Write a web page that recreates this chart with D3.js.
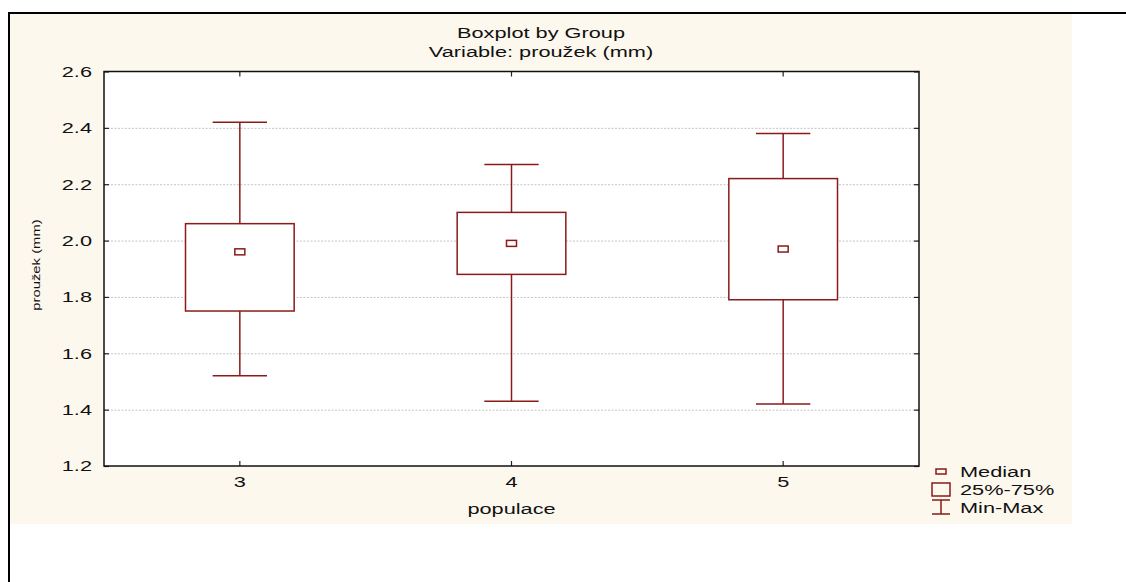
<!DOCTYPE html>
<html>
<head>
<meta charset="utf-8">
<script src="https://cdn.jsdelivr.net/npm/d3@7"></script>
<style>
  body { margin: 0; background: #fff; }
  svg { display: block; font-family: "Liberation Sans", Arial, sans-serif; }
  .axis path { display: none; }
  .axis line { stroke: #222; stroke-width: 1.2; }
  .axis text { font-size: 15px; fill: #111; }
  .grid line { stroke: #c4c4c4; stroke-dasharray: 2,1.5; }
  .grid path { display: none; }
</style>
</head>
<body>
<div id="viz"></div>
<script>
// groups and box values
var groups = ["3", "4", "5"]
var mins = [1.52, 1.43, 1.42]
var q1s = [1.75, 1.88, 1.79]
var medians = [1.96, 1.99, 1.97]
var q3s = [2.06, 2.10, 2.22]
var maxs = [2.42, 2.27, 2.38]
var yTicks = [1.2, 1.4, 1.6, 1.8, 2.0, 2.2, 2.4, 2.6]
var legendLabels = ["Median", "25%-75%", "Min-Max"]

var data = groups.map((g, i) => ({
  group: g, min: mins[i], q1: q1s[i], median: medians[i], q3: q3s[i], max: maxs[i]
}))

let red = '#8b1a1a'
let W = 1126, H = 582
let stretch = 1.45 // the original font is drawn wide

let svg = d3.select('#viz').append('svg')
  .attr('width', W)
  .attr('height', H)

// wide text helper
function wideText(x, y, str, size, anchor, rot, sx) {
  return svg.append('text')
    .attr('transform', `translate(${x},${y})` + (rot ? ` rotate(${rot})` : '') + ` scale(${sx || stretch},1)`)
    .attr('text-anchor', anchor || 'start')
    .style('font-size', size + 'px')
    .attr('fill', '#111')
    .text(str)
}

// beige panel
svg.append('rect')
  .attr('x', 10).attr('y', 14)
  .attr('width', 1062).attr('height', 510)
  .attr('fill', '#fdf8ee')

// outer frame (top and left edges only)
svg.append('path')
  .attr('d', `M9,${H} L9,13 L${W},13`)
  .attr('fill', 'none')
  .attr('stroke', '#000')
  .attr('stroke-width', 2)

let pLeft = 104, pRight = 919, pTop = 71.5, pBottom = 466

let xScale = d3.scaleBand()
  .domain(groups)
  .range([pLeft, pRight])
  .padding(0)

let yScale = d3.scaleLinear()
  .domain([1.2, 2.6])
  .range([pBottom, pTop])

svg.append('rect')
  .attr('x', pLeft).attr('y', pTop)
  .attr('width', pRight - pLeft).attr('height', pBottom - pTop)
  .attr('fill', '#fff')

// horizontal grid
svg.append('g')
  .attr('class', 'grid')
  .attr('transform', `translate(${pLeft},0)`)
  .call(d3.axisLeft(yScale)
    .tickValues(yTicks.slice(1, -1))
    .tickSize(-(pRight - pLeft))
    .tickFormat(''))

// axes with inner ticks
svg.append('g')
  .attr('class', 'axis')
  .attr('transform', `translate(${pLeft},0)`)
  .call(d3.axisLeft(yScale).tickValues(yTicks).tickSize(-5).tickPadding(12)
    .tickFormat(d3.format('.1f')))
  .selectAll('text')
  .attr('x', -12 / stretch)
  .attr('transform', `scale(${stretch},1)`)

svg.append('g')
  .attr('class', 'axis')
  .attr('transform', `translate(${pRight},0)`)
  .call(d3.axisRight(yScale).tickValues(yTicks).tickSize(-5).tickFormat(''))

svg.append('g')
  .attr('class', 'axis')
  .attr('transform', `translate(0,${pBottom})`)
  .call(d3.axisBottom(xScale).tickSize(-5).tickPadding(10))
  .selectAll('text')
  .attr('transform', `scale(${stretch},1)`)

svg.append('g')
  .attr('class', 'axis')
  .attr('transform', `translate(0,${pTop})`)
  .call(d3.axisTop(xScale).tickSize(-5).tickFormat(''))

svg.append('rect')
  .attr('x', pLeft).attr('y', pTop)
  .attr('width', pRight - pLeft).attr('height', pBottom - pTop)
  .attr('fill', 'none')
  .attr('stroke', '#111')
  .attr('stroke-width', 1.5)

// boxes
let bw = xScale.bandwidth()
let boxW = bw * 0.4
let capW = bw * 0.2

let boxes = svg.selectAll('.box')
  .data(data)
  .enter()
  .append('g')
  .attr('class', 'box')
  .attr('transform', (d) => `translate(${xScale(d.group) + bw / 2},0)`)

boxes.append('line')
  .attr('x1', 0).attr('x2', 0)
  .attr('y1', (d) => yScale(d.max))
  .attr('y2', (d) => yScale(d.min))
  .attr('stroke', red).attr('stroke-width', 1.5)

boxes.selectAll('.cap')
  .data((d) => [d.min, d.max])
  .enter()
  .append('line')
  .attr('x1', -capW / 2).attr('x2', capW / 2)
  .attr('y1', (v) => yScale(v)).attr('y2', (v) => yScale(v))
  .attr('stroke', red).attr('stroke-width', 1.5)

boxes.append('rect')
  .attr('x', -boxW / 2)
  .attr('y', (d) => yScale(d.q3))
  .attr('width', boxW)
  .attr('height', (d) => yScale(d.q1) - yScale(d.q3))
  .attr('fill', '#fff')
  .attr('stroke', red).attr('stroke-width', 1.5)

boxes.append('rect')
  .attr('x', -5)
  .attr('y', (d) => yScale(d.median) - 3)
  .attr('width', 10).attr('height', 6)
  .attr('fill', '#fff')
  .attr('stroke', red).attr('stroke-width', 1.5)

// titles
wideText(541, 38, 'Boxplot by Group', 15, 'middle')
wideText(541, 57, 'Variable: proužek (mm)', 15, 'middle')
wideText(40, 265, 'proužek (mm)', 11, 'middle', -90, 1.35)
wideText((pLeft + pRight) / 2, 514, 'populace', 15, 'middle')

// legend
let legend = svg.append('g').attr('transform', 'translate(941,0)')
let ly = [477, 495, 513]

legend.append('rect')
  .attr('x', -5).attr('y', 469)
  .attr('width', 10).attr('height', 5)
  .attr('fill', 'none').attr('stroke', red).attr('stroke-width', 1.5)

legend.append('rect')
  .attr('x', -9).attr('y', 483)
  .attr('width', 18).attr('height', 13)
  .attr('fill', 'none').attr('stroke', red).attr('stroke-width', 1.5)

legend.append('path')
  .attr('d', 'M-9,500 H9 M0,500 V514 M-9,514 H9')
  .attr('fill', 'none').attr('stroke', red).attr('stroke-width', 1.5)

legendLabels.forEach((d, i) => wideText(960, ly[i], d, 15, 'start'))
</script>
</body>
</html>
